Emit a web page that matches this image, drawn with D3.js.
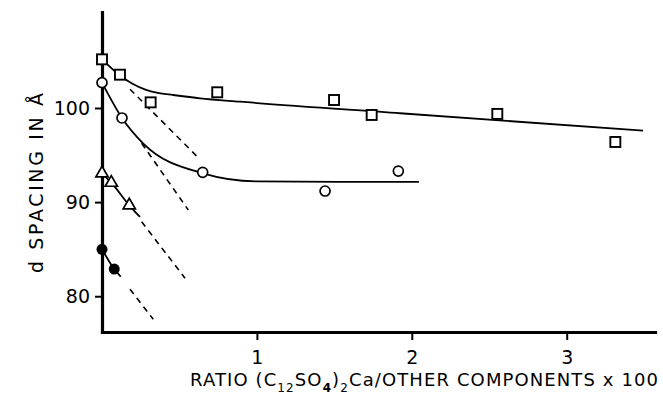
<!DOCTYPE html>
<html>
<head>
<meta charset="utf-8">
<script src="https://cdn.jsdelivr.net/npm/d3@7"></script>
<style>
  body { margin: 0; background: #fff; }
  svg { display: block; font-family: "DejaVu Sans", sans-serif; }
</style>
</head>
<body>
<script>
'use strict';

// measured points (x = ratio x 100, y = d spacing in A)
const squareX = [0, 0.116, 0.314, 0.744, 1.498, 1.741, 2.552, 3.314];
const squareY = [105.17, 103.54, 100.6, 101.67, 100.85, 99.26, 99.37, 96.39];

const circleX = [0, 0.129, 0.65, 1.44, 1.913];
const circleY = [102.69, 98.94, 93.17, 91.18, 93.3];

const triangleX = [0, 0.06, 0.176];
const triangleY = [93.06, 92.06, 89.66];

const dotX = [0, 0.079];
const dotY = [84.99, 82.89];

// hand drawn fitted curves
const squareFitX = [0, 0.12, 0.2, 0.28, 0.36, 0.46, 0.633, 0.891, 1.924, 3.493];
const squareFitY = [105.2, 103.4, 102.55, 101.95, 101.6, 101.38, 101.03, 100.67, 99.44, 97.59];

const circleFitX = [0, 0.129, 0.265, 0.652, 1.001, 1.536, 2.046];
const circleFitY = [102.69, 98.94, 96.25, 93.06, 92.2, 92.15, 92.15];

const triangleFitX = [0, 0.06, 0.176, 0.245];
const triangleFitY = [93.06, 92.06, 89.66, 88.42];

const dotFitX = [0, 0.079, 0.121];
const dotFitY = [84.99, 82.89, 82.08];

// dashed extrapolations of the initial slopes
const dashLines = [
  { x: [0.181, 0.615], y: [101.99, 94.83] },
  { x: [0.256, 0.557], y: [96.25, 89.16] },
  { x: [0.256, 0.536], y: [87.92, 81.91] },
  { x: [0.181, 0.331], y: [80.74, 77.55] }
];

const xTicks = [1, 2, 3];
const yTicks = [80, 90, 100];

const W = 663, H = 405;

const svg = d3.select('body')
  .append('svg')
  .attr('width', W)
  .attr('height', H);

const x = d3.scaleLinear().domain([0, 3.57]).range([102, 655]);
const y = d3.scaleLinear().domain([76.2, 110.2]).range([332, 12]);

const zip = (xs, ys) => xs.map((v, i) => [v, ys[i]]);

const line = d3.line()
  .x(d => x(d[0]))
  .y(d => y(d[1]))
  .curve(d3.curveMonotoneX);

// axes
const yAxis = svg.append('g')
  .attr('transform', 'translate(' + x(0) + ',0)')
  .call(d3.axisLeft(y).tickValues(yTicks).tickSize(7).tickSizeOuter(0).tickPadding(5));

const xAxis = svg.append('g')
  .attr('transform', 'translate(0,' + y(76.2) + ')')
  .call(d3.axisBottom(x).tickValues(xTicks).tickSize(8).tickSizeOuter(0).tickPadding(11).tickFormat(d3.format('d')));

[xAxis, yAxis].forEach(g => {
  g.select('.domain').attr('stroke', '#000').attr('stroke-width', 3.2).attr('stroke-linecap', 'square');
  g.selectAll('.tick line').attr('stroke', '#000').attr('stroke-width', 2);
  g.selectAll('.tick text')
    .attr('fill', '#000')
    .style('font-family', '"DejaVu Sans", sans-serif')
    .style('font-size', '19px');
});

// fitted curves
[zip(squareFitX, squareFitY), zip(circleFitX, circleFitY),
 zip(triangleFitX, triangleFitY), zip(dotFitX, dotFitY)].forEach(pts => {
  svg.append('path')
    .attr('d', line(pts))
    .attr('fill', 'none')
    .attr('stroke', '#000')
    .attr('stroke-width', 1.8);
});

// dashed lines
dashLines.forEach(dl => {
  svg.append('path')
    .attr('d', d3.line().x(d => x(d[0])).y(d => y(d[1]))(zip(dl.x, dl.y)))
    .attr('fill', 'none')
    .attr('stroke', '#000')
    .attr('stroke-width', 1.6)
    .attr('stroke-dasharray', '6,5');
});

// markers
svg.selectAll('.sq')
  .data(zip(squareX, squareY))
  .enter()
  .append('rect')
  .attr('x', d => x(d[0]) - 5)
  .attr('y', d => y(d[1]) - 5)
  .attr('width', 10)
  .attr('height', 10)
  .attr('fill', '#fff')
  .attr('stroke', '#000')
  .attr('stroke-width', 1.9);

svg.selectAll('.ci')
  .data(zip(circleX, circleY))
  .enter()
  .append('circle')
  .attr('cx', d => x(d[0]))
  .attr('cy', d => y(d[1]))
  .attr('r', 5)
  .attr('fill', '#fff')
  .attr('stroke', '#000')
  .attr('stroke-width', 1.7);

svg.selectAll('.tri')
  .data(zip(triangleX, triangleY))
  .enter()
  .append('path')
  .attr('d', d3.symbol(d3.symbolTriangle, 65))
  .attr('transform', d => 'translate(' + x(d[0]) + ',' + y(d[1]) + ')')
  .attr('fill', '#fff')
  .attr('stroke', '#000')
  .attr('stroke-width', 1.7);

svg.selectAll('.dot')
  .data(zip(dotX, dotY))
  .enter()
  .append('circle')
  .attr('cx', d => x(d[0]))
  .attr('cy', d => y(d[1]))
  .attr('r', 5.5)
  .attr('fill', '#000');

// axis titles
svg.append('text')
  .attr('transform', 'translate(43,183)rotate(-90)')
  .attr('text-anchor', 'middle')
  .attr('textLength', 180)
  .attr('lengthAdjust', 'spacing')
  .style('font-size', '19px')
  .text('d SPACING IN Å');

const xt = svg.append('text')
  .attr('x', 190)
  .attr('y', 386)
  .attr('textLength', 468)
  .attr('lengthAdjust', 'spacing')
  .style('font-size', '18px');
xt.append('tspan').text('RATIO (C');
xt.append('tspan').attr('dy', 6).style('font-size', '12px').text('12');
xt.append('tspan').attr('dy', -6).text('SO');
xt.append('tspan').attr('dy', 6).style('font-size', '12px').style('font-weight', 'bold').text('4');
xt.append('tspan').attr('dy', -6).text(')');
xt.append('tspan').attr('dy', 6).style('font-size', '12px').text('2');
xt.append('tspan').attr('dy', -6).text('Ca/OTHER COMPONENTS x 100');
</script>
</body>
</html>
